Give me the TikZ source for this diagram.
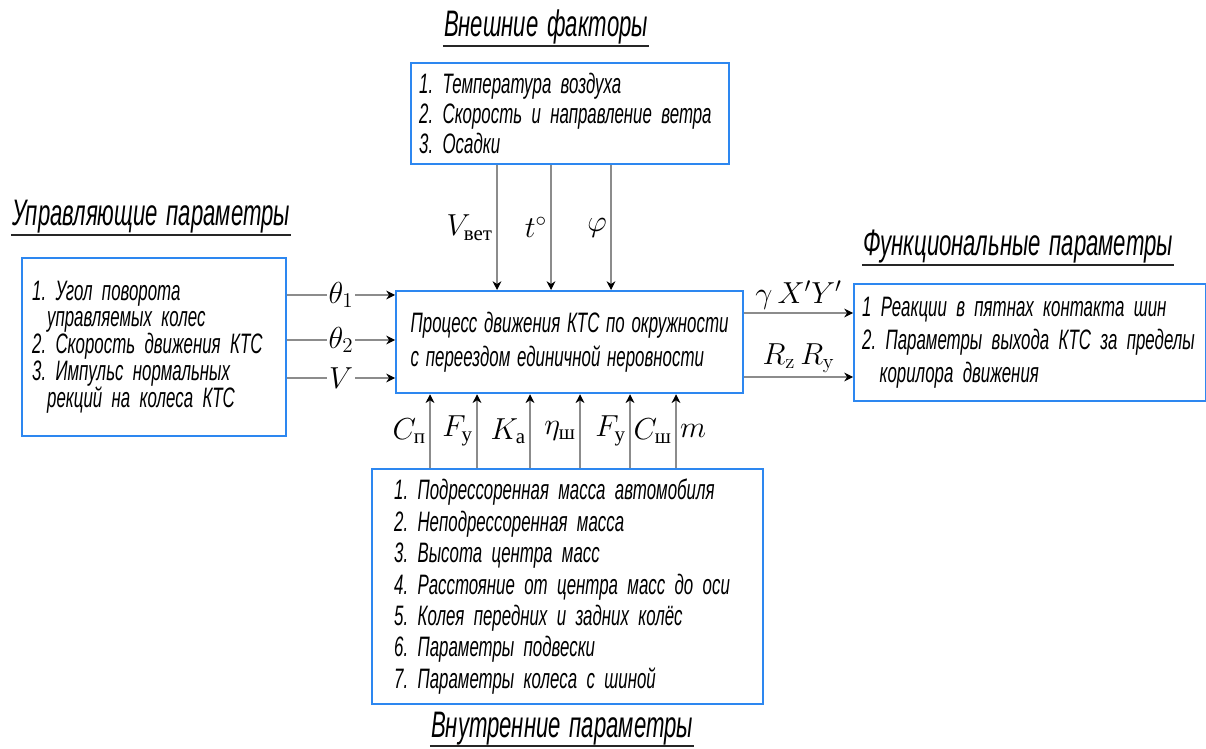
\documentclass[tikz,border=0pt]{standalone}
\usepackage{amsmath}
\usepackage{fontspec}
\newfontfamily\gost{Liberation Sans}[FakeStretch=0.6]
\newfontfamily\cyrsub{Liberation Serif}
\usetikzlibrary{arrows.meta}
\definecolor{boxblue}{RGB}{45,135,240}
\newcommand{\ind}[1]{\text{\cyrsub #1}}
\newcommand{\gostfont}[2]{\gost\itshape\fontsize{#1}{#2}\selectfont\spaceskip=0.24em plus 0.05em\relax}
\frenchspacing

\begin{document}
\begin{tikzpicture}[x=0.02cm,y=-0.02cm,
  box/.style={draw=boxblue,line width=1.3pt,anchor=north west,align=left,
    font={\gostfont{16}{#1}}},
  ttl/.style={anchor=base,inner sep=0.5pt,font={\gostfont{21}{24}}},
  uline/.style={line width=1.1pt,black!85},
  feed/.style={draw=black!45,line width=0.6pt,-{Stealth[length=5pt,width=5pt,black]}},
  lbl/.style={inner sep=2pt,font=\fontsize{17}{20}\selectfont}]
\useasboundingbox (0,0) rectangle (1206,749);

% titles
\node[ttl] (tx) at (546,37) {Внешние факторы};
\node[ttl] (tu) at (151,226) {Управляющие параметры};
\node[ttl] (tf) at (1018,256) {Функциональные параметры};
\node[ttl] (tv) at (562,737) {Внутренние параметры};
\foreach \n in {tx,tu,tf,tv}
  \draw[uline] (\n.south west) -- (\n.south east);

% boxes
\node[box=17,minimum width=6.36cm,minimum height=2.02cm,inner xsep=0.16cm,text width=6.04cm] (ext) at (410,62)
  {1. Температура воздуха\\ 2. Скорость и направление ветра\\ 3. Осадки};
\node[box=19.3,minimum width=6.94cm,minimum height=2.04cm,inner xsep=0.06cm] (proc) at (395,290)
  {Процесс движения КТС по окружности\\ с переездом единичной неровности};
\node[box=15.3,minimum width=5.28cm,minimum height=3.56cm,inner xsep=0.2cm,text width=4.88cm] (ctrl) at (21,257)
  {1. Угол поворота\\ \hspace*{0.3cm}управляемых колес\\ 2. Скорость движения КТС\\ 3. Импульс нормальных\\ \hspace*{0.3cm}рекций на колеса КТС};
\node[box=18.7,minimum width=7.04cm,minimum height=2.34cm,inner xsep=0.16cm,text width=6.72cm] (func) at (853,283)
  {1 Реакции в пятнах контакта шин\\ 2. Параметры выхода КТС за пределы\\ \hspace*{0.35cm}корилора движения};
\node[box=17.9,minimum width=7.82cm,minimum height=4.7cm,inner xsep=0.44cm,text width=6.94cm] (intl) at (371,468)
  {1. Подрессоренная масса автомобиля\\ 2. Неподрессоренная масса\\ 3. Высота центра масс\\
   4. Расстояние от центра масс до оси\\ 5. Колея передних и задних колёс\\ 6. Параметры подвески\\
   7. Параметры колеса с шиной};

% inputs from above
\foreach \x/\lab in {497/{V_{\ind{вет}}},551/{t^{\circ}},611/{\varphi}}
  \draw[feed] (\x,0 |- ext.south) -- node[lbl,left]{$\lab$} (\x,0 |- proc.north);

% control inputs
\foreach \y/\lab in {295/{\theta_1},340/{\theta_2},378/{V}}
  \draw[feed] (ctrl.east |- 0,\y) -- node[lbl,fill=white,inner sep=1pt]{$\lab$} (proc.west |- 0,\y);

% outputs
\draw[feed] (proc.east |- 0,313) -- node[lbl,above]{$\gamma\,X'Y'$} (func.west |- 0,313);
\draw[feed] (proc.east |- 0,377) -- node[lbl,above]{$R_{\mathrm{z}}\,R_{\mathrm{y}}$} (func.west |- 0,377);

% internal parameters
\foreach \x/\lab in {430/{C_{\ind{п}}},477/{F_{\ind{у}}},530/{K_{\ind{а}}},580/{\eta_{\ind{ш}}},630/{F_{\ind{у}}}}
  \draw[feed] (\x,0 |- intl.north) -- node[lbl,left]{$\lab$} (\x,0 |- proc.south);
\draw[feed] (676,0 |- intl.north) -- node[lbl,left]{$C_{\ind{ш}}$} node[lbl,right]{$m$} (676,0 |- proc.south);
\end{tikzpicture}
\end{document}
